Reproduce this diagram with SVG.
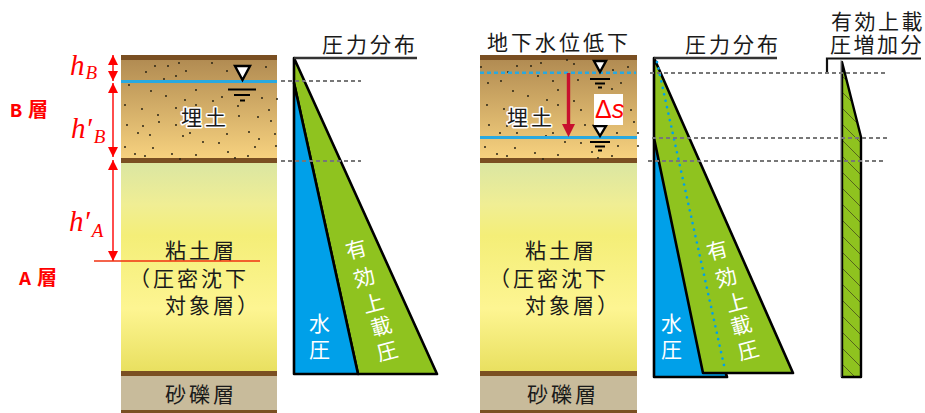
<svg xmlns="http://www.w3.org/2000/svg" width="925" height="413" viewBox="0 0 925 413">
<style>
.t{font-family:"Noto Sans CJK JP","Liberation Sans",sans-serif;font-size:21px;fill:#1a1a1a;letter-spacing:3px}
.w{font-family:"Noto Sans CJK JP","Liberation Sans",sans-serif;font-size:21px;fill:#fff}
.halo{paint-order:stroke;stroke:#fff;stroke-width:3px;stroke-linejoin:round}
.m{font-family:"Liberation Serif",serif;font-style:italic;fill:#f00}
.r{font-family:"Liberation Mono","Noto Sans CJK JP",monospace;font-size:20px;font-weight:bold;fill:#f00}
.brown{fill:#7a4f22}.gravel{fill:#c8bb9b}
.dots{fill:none;stroke:#2a2415;stroke-width:2;stroke-linecap:round}
.grid{stroke:#777;stroke-width:2;stroke-dasharray:4 3;fill:none}
.k{stroke:#000;stroke-width:2.6;stroke-linejoin:round}
.bar{stroke:#333;stroke-width:2.6;fill:none}
.wt{fill:#fff;stroke:#000;stroke-width:2.4}
.ws{stroke:#000;stroke-width:2}
.red{stroke:#f00;stroke-width:1.4;fill:none}
</style>
<defs>
<linearGradient id="soil" x1="0" y1="0" x2="0" y2="1"><stop offset="0" stop-color="#ae8850"/><stop offset="1" stop-color="#f7d27f"/></linearGradient>
<linearGradient id="clay" x1="0" y1="0" x2="0" y2="1"><stop offset="0" stop-color="#dbe6a2"/><stop offset=".2" stop-color="#f0ee94"/><stop offset=".35" stop-color="#f4ee78"/><stop offset=".7" stop-color="#fdf592"/><stop offset="1" stop-color="#e9e060"/></linearGradient>
<pattern id="hatch" width="16" height="16" patternUnits="userSpaceOnUse" patternTransform="translate(842 60)"><rect width="16" height="16" fill="#8fc31f"/><path d="M-2-2L18 18" stroke="#55651c" stroke-width="1"/></pattern>
<marker id="ah" viewBox="0 0 10 10" refX="10" refY="5" markerWidth="10" markerHeight="10" markerUnits="userSpaceOnUse" orient="auto-start-reverse"><path d="M0 0L10 5L0 10z" fill="#f00"/></marker>
</defs>

<g id="ground-left">
<rect x="121" y="55" width="156" height="104" fill="url(#soil)"/>
<rect x="121" y="55" width="156" height="5" class="brown"/>
<rect x="121" y="158" width="156" height="5" class="brown"/>
<rect x="121" y="163" width="156" height="208" fill="url(#clay)"/>
<rect x="121" y="371" width="156" height="5" class="brown"/>
<rect x="121" y="376" width="156" height="34" class="gravel"/>
<rect x="121" y="410" width="156" height="3" class="brown"/>
<path class="dots" d="M146 72h0M155 66h0M168 66h0M179 63h0M186 71h0M176 76h0M164 79h0M212 63h0M227 71h0M266 67h0M129 85h0M151 91h0M166 96h0M196 90h0M185 100h0M213 101h0M222 97h0M262 98h0M277 99h0M125 105h0M142 109h0M158 115h0M176 108h0M196 105h0M238 106h0M239 116h0M258 117h0M269 110h0M271 121h0M159 122h0M127 125h0M143 126h0M176 125h0M138 133h0M150 135h0M183 136h0M190 133h0M227 134h0M249 132h0M275 134h0M259 139h0M203 142h0M219 143h0M125 147h0M153 148h0M255 147h0M276 146h0M228 152h0M135 154h0M145 156h0M172 154h0M196 155h0M248 156h0M235 158h0M180 159h0"/>
<rect x="121" y="80" width="156" height="3" fill="#29a9e0"/>
<polygon class="wt" points="235,66 250,66 242.500,80"/>
<path class="ws" d="M228 89.500H256" stroke-width="2.500"/><path class="ws" d="M234 95H250"/><path class="ws" d="M240 100.500H245" stroke-width="3"/>
<text class="t halo" x="181" y="125" font-size="22">埋土</text>
<text class="t" x="165" y="258">粘土層</text>
<text class="t" x="129" y="286">（圧密沈下</text>
<text class="t" x="165" y="313">対象層）</text>
<text class="t" x="165" y="402">砂礫層</text>
</g>

<g id="ground-right">
<rect x="480" y="55" width="157" height="104" fill="url(#soil)"/>
<rect x="480" y="55" width="157" height="5" class="brown"/>
<rect x="480" y="158" width="157" height="5" class="brown"/>
<rect x="480" y="163" width="157" height="208" fill="url(#clay)"/>
<rect x="480" y="371" width="157" height="5" class="brown"/>
<rect x="480" y="376" width="157" height="34" class="gravel"/>
<rect x="480" y="410" width="157" height="3" class="brown"/>
<path class="dots" d="M481 67h0M517 66h0M531 66h0M541 63h0M574 64h0M567 60h0M613 70h0M628 67h0M538 76h0M508 72h0M488 83h0M501 81h0M553 81h0M578 80h0M513 91h0M558 90h0M528 96h0M621 83h0M612 89h0M574 101h0M547 100h0M487 105h0M504 109h0M558 105h0M581 110h0M631 110h0M489 125h0M507 126h0M546 125h0M585 125h0M634 122h0M500 133h0M517 133h0M546 136h0M553 133h0M617 133h0M638 133h0M565 142h0M581 143h0M485 147h0M515 148h0M618 146h0M638 146h0M592 152h0M497 154h0M507 156h0M535 153h0M558 155h0M612 156h0M598 158h0M543 159h0"/>
<path d="M480 72.800H636" fill="none" stroke="#29a9e0" stroke-width="2.500" stroke-dasharray="4 3"/>
<rect x="480" y="136" width="157" height="3" fill="#29a9e0"/>
<polygon class="wt" points="594,61 606,61 600,72"/>
<path class="ws" d="M590 79H610" stroke-width="2.500"/><path class="ws" d="M595 83.500H605"/><path class="ws" d="M598 87.500H602"/>
<polygon class="wt" points="594,126 606,126 600,136"/>
<path class="ws" d="M590 142H610" stroke-width="2.500"/><path class="ws" d="M595 146.500H605"/><path class="ws" d="M598 150.500H602"/>
<rect x="594" y="94" width="29" height="31" fill="#fff"/>
<path d="M568.500 73V125" stroke="#c8102e" stroke-width="3.400" fill="none"/>
<polygon points="562,124 575,124 568.500,137" fill="#c8102e"/>
<text x="595" y="118" font-size="25" fill="#f00" font-family="'Liberation Sans',sans-serif">Δ<tspan font-style="italic">s</tspan></text>
<text class="t halo" x="507" y="125" font-size="22">埋土</text>
<text class="t" x="525" y="258">粘土層</text>
<text class="t" x="489" y="286">（圧密沈下</text>
<text class="t" x="525" y="313">対象層）</text>
<text class="t" x="527" y="402">砂礫層</text>
</g>

<g id="pressure-left">
<polygon class="k" points="294,58 437,374 358,374 294,83" fill="#8fc31f"/>
<polygon class="k" points="294,83 358,374 294,374" fill="#00a0e9"/>
<path class="bar" d="M294 58H417"/>
<text class="t" x="322" y="52">圧力分布</text>
<text class="w" x="309" y="331">水</text>
<text class="w" x="309" y="357">圧</text>
<text class="w" transform="translate(356 249) rotate(-15)" text-anchor="middle" dy="8">有</text>
<text class="w" transform="translate(364 277) rotate(-15)" text-anchor="middle" dy="8">効</text>
<text class="w" transform="translate(373 303) rotate(-15)" text-anchor="middle" dy="8">上</text>
<text class="w" transform="translate(381 326) rotate(-15)" text-anchor="middle" dy="8">載</text>
<text class="w" transform="translate(387 351) rotate(-15)" text-anchor="middle" dy="8">圧</text>
</g>

<g id="pressure-right">
<polygon class="k" points="654,138 727,377 654,377" fill="#00a0e9"/>
<polygon class="k" points="654,58 793,373 703,373 654,138" fill="#8fc31f"/>
<path d="M657 62L725 370" fill="none" stroke="#00a0e9" stroke-width="2.600" stroke-dasharray="0.100 6.500" stroke-linecap="round"/>
<path class="bar" d="M654 58H777"/>
<text class="t" x="685" y="52">圧力分布</text>
<text class="w" x="661" y="331">水</text>
<text class="w" x="661" y="357">圧</text>
<text class="w" transform="translate(717 250) rotate(-15)" text-anchor="middle" dy="8">有</text>
<text class="w" transform="translate(726 277) rotate(-15)" text-anchor="middle" dy="8">効</text>
<text class="w" transform="translate(736 302) rotate(-15)" text-anchor="middle" dy="8">上</text>
<text class="w" transform="translate(741 325) rotate(-15)" text-anchor="middle" dy="8">載</text>
<text class="w" transform="translate(748 350) rotate(-15)" text-anchor="middle" dy="8">圧</text>
<text class="t" x="487" y="50">地下水位低下</text>
</g>

<g id="increment">
<polygon points="842,62 861,137 861,377 842,377" fill="url(#hatch)" stroke="#000" stroke-width="2.400" stroke-linejoin="round"/>
<path d="M841 60V377" stroke="#999" stroke-width="1" fill="none"/>
<path d="M827 73V58.500H921" fill="none" stroke="#111" stroke-width="2.200"/>
<text class="t" x="831" y="29" style="letter-spacing:2.500px">有効上載</text>
<text class="t" x="830" y="52" style="letter-spacing:2.500px">圧増加分</text>
</g>

<g id="connectors">
<path class="grid" d="M281 81H361M281 161H361M650 73H886M652 138H887M648 161H884"/>
<path class="red" d="M113 55V81" marker-start="url(#ah)" marker-end="url(#ah)"/>
<path class="red" d="M113 83V157" marker-start="url(#ah)" marker-end="url(#ah)"/>
<path class="red" d="M113 160V261" marker-start="url(#ah)" marker-end="url(#ah)"/>
<path d="M94 261H260" stroke="#f03010" stroke-width="1.500" fill="none"/>
</g>

<g id="labels">
<text class="m" x="70" y="75" font-size="29">h<tspan font-size="19" dx="1" dy="4">B</tspan></text>
<text class="m" x="71" y="138" font-size="29">h′<tspan font-size="19" dx="2" dy="5">B</tspan></text>
<text class="m" x="69" y="231" font-size="29">h′<tspan font-size="19" dx="2" dy="6">A</tspan></text>
<text class="r" x="10" y="117">B<tspan x="28">層</tspan></text>
<text class="r" x="19" y="285">A<tspan x="37">層</tspan></text>
</g>
</svg>
